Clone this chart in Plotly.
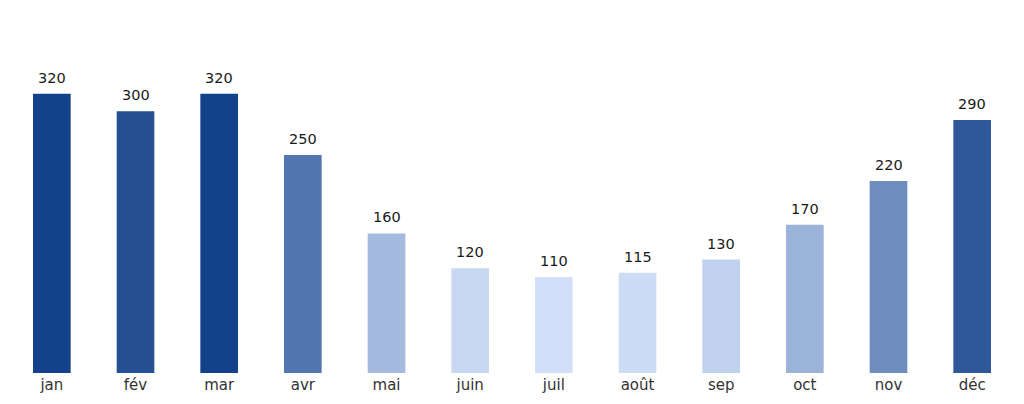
import plotly.graph_objects as go

months = ["jan", "fév", "mar", "avr", "mai", "juin", "juil", "août", "sep", "oct", "nov", "déc"]
values = [320, 300, 320, 250, 160, 120, 110, 115, 130, 170, 220, 290]

fig = go.Figure(
    go.Bar(
        x=months,
        y=values,
        width=0.45,
        marker={
            "color": values,
            "colorscale": [[0, "#d1e0f8"], [1, "#13418a"]],
            "cmin": min(values),
            "cmax": max(values),
            "line": {"width": 0},
        },
        hoverinfo="skip",
    )
)

for m, v in zip(months, values):
    fig.add_annotation(
        x=m, y=v, text=str(v), showarrow=False,
        yanchor="bottom", yshift=6,
        font={"family": "DejaVu Sans", "size": 14.5, "color": "#1a1a1a"},
    )

# page body adds an 8px offset, so margins are shifted to compensate
fig.update_layout(
    width=1024,
    height=404,
    margin={"l": 2, "r": 18, "t": 44, "b": 39},
    plot_bgcolor="white",
    paper_bgcolor="white",
    showlegend=False,
    xaxis={
        "showgrid": False,
        "showline": False,
        "ticks": "",
        "ticklabelstandoff": 1,
        "tickfont": {"family": "DejaVu Sans", "size": 15, "color": "#333333"},
    },
    yaxis={
        "range": [0, 368],
        "visible": False,
        "showgrid": False,
        "zeroline": False,
    },
)

fig.write_html("out.html")
